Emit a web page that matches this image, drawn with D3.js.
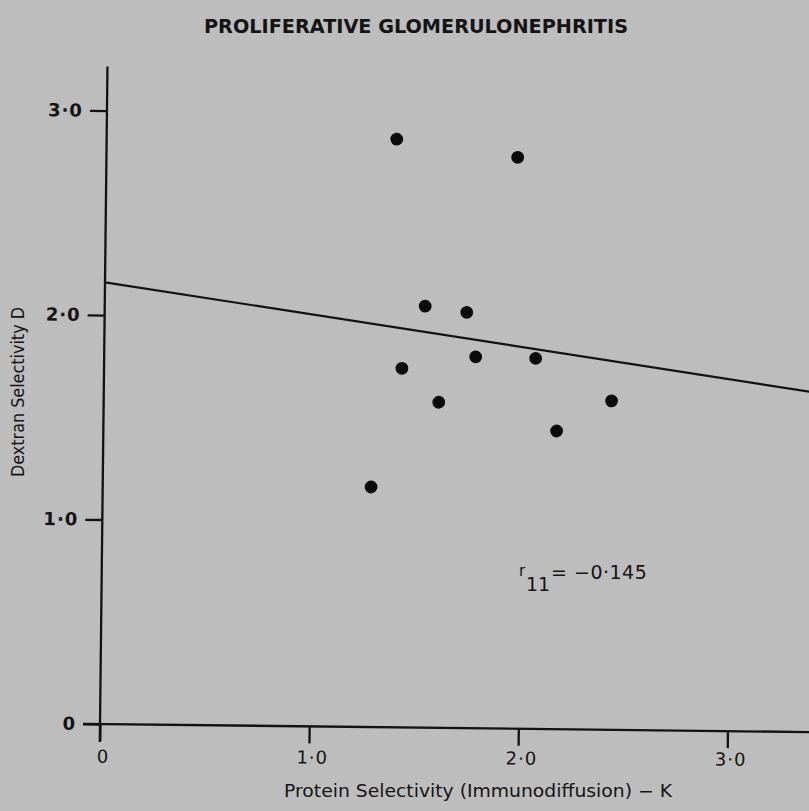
<!DOCTYPE html>
<html>
<head>
<meta charset="utf-8">
<script src="https://cdn.jsdelivr.net/npm/d3@7"></script>
<style>
  html, body { margin: 0; padding: 0; background: #bdbdbd; }
  svg { display: block; }
  text { fill: #141414; font-family: "DejaVu Sans", "Liberation Sans", sans-serif; }
</style>
</head>
<body>
<svg id="chart" width="809" height="811"></svg>
<script>
// ---- data ----
const proteinK = [1.387, 1.966, 1.532, 1.731, 1.776, 2.063, 1.424, 1.602, 2.167, 1.283, 2.428];
const dextranD = [2.876, 2.794, 2.061, 2.033, 1.816, 1.812, 1.756, 1.592, 1.458, 1.174, 1.608];
const regK = [0, 3.45];
const regD = [2.16, 1.653];
const tickValues = [0, 1, 2, 3];
const tickLabels = ["0", "1·0", "2·0", "3·0"];
const titleText = "PROLIFERATIVE GLOMERULONEPHRITIS";
const xTitle = "Protein Selectivity (Immunodiffusion) − K";
const yTitle = "Dextran Selectivity D";
const rLabel = "r";
const rSub = "11";
const rValue = "= −0·145";

const svg = d3.select("#chart");
const W = 809, H = 811;
svg.append("rect").attr("width", W).attr("height", H).attr("fill", "#bdbdbd");

const x0 = 100, y0 = 724;
const x = d3.scaleLinear().domain([0, 3]).range([x0, x0 + 627.5]);
const y = d3.scaleLinear().domain([0, 3]).range([y0, y0 - 613.5]);

const angle = 0.65;
const sinA = Math.sin(angle * Math.PI / 180);
// slight rotation of the photographed plot
const g = svg.append("g").attr("transform", `rotate(${angle}, ${x0}, ${y0})`);

const fmt = d => tickLabels[tickValues.indexOf(d)];
const ink = "#121212";

// axes lines (extended like in the reference)
g.append("line")
  .attr("x1", x0).attr("x2", x0)
  .attr("y1", y(3.215)).attr("y2", y0 + 18)
  .attr("stroke", ink).attr("stroke-width", 2.3);
g.append("line")
  .attr("x1", x0 - 17).attr("x2", x(3.6))
  .attr("y1", y0).attr("y2", y0)
  .attr("stroke", ink).attr("stroke-width", 2.3);

const yAxis = d3.axisLeft(y).tickValues(tickValues).tickFormat(fmt).tickSize(17).tickPadding(7);
const ya = g.append("g").attr("transform", `translate(${x0},0)`).call(yAxis);
ya.select(".domain").remove();
ya.selectAll(".tick line").attr("stroke", ink).attr("stroke-width", 2.3);
ya.selectAll(".tick text")
  .attr("font-size", 18).attr("font-weight", "bold").attr("fill", ink)
  .style("font-family", "'DejaVu Sans', sans-serif").attr("letter-spacing", 1);

const xAxis = d3.axisBottom(x).tickValues(tickValues).tickFormat(fmt).tickSize(17).tickPadding(9);
const xa = g.append("g").attr("transform", `translate(0,${y0})`).call(xAxis);
xa.select(".domain").remove();
xa.selectAll(".tick line").attr("stroke", ink).attr("stroke-width", 2.3);
xa.selectAll(".tick text")
  .attr("font-size", 18).attr("fill", ink)
  .style("font-family", "'DejaVu Sans', sans-serif").attr("letter-spacing", 1)
  .attr("transform", d => `translate(3, ${-(x(d) - x0) * sinA * 0.6})`);

// regression line
g.append("line")
  .attr("x1", x(regK[0])).attr("y1", y(regD[0]))
  .attr("x2", x(regK[1])).attr("y2", y(regD[1]))
  .attr("stroke", ink).attr("stroke-width", 2.2);

// points
g.selectAll("circle.pt").data(proteinK).enter().append("circle")
  .attr("class", "pt")
  .attr("cx", (d, i) => x(d))
  .attr("cy", (d, i) => y(dextranD[i]))
  .attr("r", 6.4)
  .attr("fill", "#0b0b0b");

// title
svg.append("text")
  .attr("x", 416).attr("y", 33)
  .attr("text-anchor", "middle")
  .attr("font-size", 19).attr("font-weight", "bold")
  .attr("textLength", 424).attr("lengthAdjust", "spacingAndGlyphs")
  .text(titleText);

// x title
svg.append("text")
  .attr("x", 478).attr("y", 797)
  .attr("text-anchor", "middle")
  .attr("font-size", 17)
  .attr("textLength", 388).attr("lengthAdjust", "spacingAndGlyphs")
  .text(xTitle);

// y title
svg.append("text")
  .attr("transform", "translate(24, 392) rotate(-90)")
  .attr("text-anchor", "middle")
  .attr("font-size", 17)
  .attr("textLength", 170).attr("lengthAdjust", "spacingAndGlyphs")
  .text(yTitle);

// r annotation
const ann = svg.append("g");
ann.append("text").attr("x", 519).attr("y", 576).attr("font-size", 15).text(rLabel);
ann.append("text").attr("x", 526).attr("y", 591).attr("font-size", 19).text(rSub);
ann.append("text").attr("x", 551).attr("y", 579).attr("font-size", 19).attr("letter-spacing", 0.5).text(rValue);
</script>
</body>
</html>
